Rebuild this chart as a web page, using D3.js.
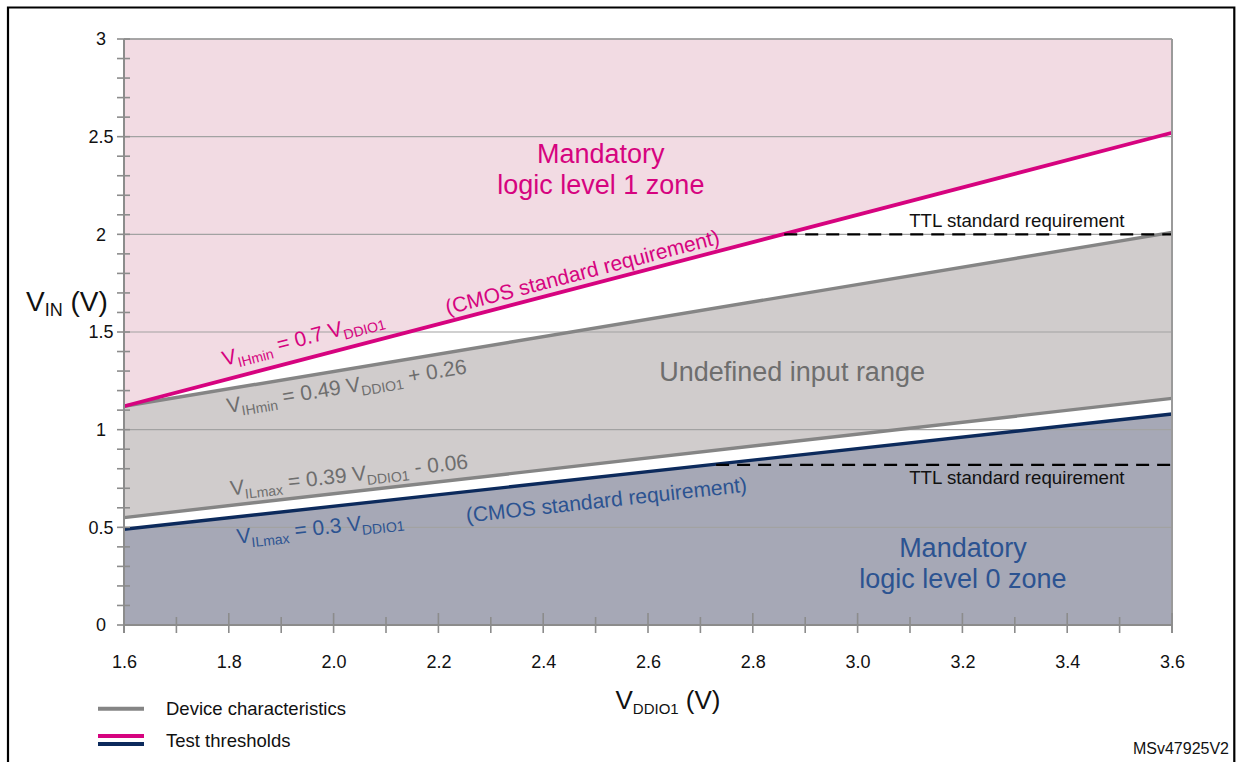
<!doctype html>
<html>
<head>
<script src="https://d3js.org/d3.v7.min.js"></script>
<style>
body { margin: 0; background: #fff; }
text { font-family: "Liberation Sans", Arial, sans-serif; }
</style>
</head>
<body>
<script>
// data
var vddio = [1.6, 3.6];
var vihTest = [1.12, 2.52];     // VIHmin = 0.7 VDDIO1
var vihDevice = [1.12, 2.01];   // VIHmin = 0.49 VDDIO1 + 0.26
var vilDevice = [0.55, 1.16];   // VILmax = 0.39 VDDIO1 - 0.06
var vilTest = [0.49, 1.08];     // VILmax = 0.3 VDDIO1
var ttlLevels = [2.0, 0.82];
var ttlStart = [2.86, 2.73];
var xTickLabels = [1.6, 1.8, 2.0, 2.2, 2.4, 2.6, 2.8, 3.0, 3.2, 3.4, 3.6];
var yTickLabels = [0, 0.5, 1, 1.5, 2, 2.5, 3];

var pink = '#d6037f', navy = '#0c2a5c', grayLine = '#858585';
var blueText = '#2c5391', grayText = '#6e6e6e';

var W = 1236, H = 762;
var svg = d3.select('body').append('svg').attr('width', W).attr('height', H);

var x = d3.scaleLinear().domain([1.6, 3.6]).range([124, 1172]);
var y = d3.scaleLinear().domain([0, 3]).range([625, 39]);

// outer frame
svg.append('path').attr('d', 'M8,' + H + 'V7.5H1234.3V' + H)
	.style('fill', 'none').style('stroke', '#000').style('stroke-width', 2.2);

/////////////// ZONES ///////////////
function pts(vals) { return vddio.map(function(v, i) { return {x: v, y: vals[i]}; }); }
function areaBetween(top, bottom) {
	var data = vddio.map(function(v, i) { return {x: v, t: top[i], b: bottom[i]}; });
	return d3.area().x(function(d) { return x(d.x); })
		.y0(function(d) { return y(d.b); }).y1(function(d) { return y(d.t); })(data);
}
svg.append('path').attr('d', areaBetween([3, 3], vihTest)).style('fill', '#f2dbe3');
svg.append('path').attr('d', areaBetween(vihDevice, vilDevice)).style('fill', '#d0cccc');
svg.append('path').attr('d', areaBetween(vilTest, [0, 0])).style('fill', '#a6a8b6');

// grid lines
svg.append('g').selectAll('line').data(yTickLabels.filter(function(d) { return d > 0; }))
	.enter().append('line')
	.attr('x1', x(1.6)).attr('x2', x(3.6))
	.attr('y1', function(d) { return y(d); }).attr('y2', function(d) { return y(d); })
	.style('stroke', '#a2a2a2').style('stroke-width', 1.2);

/////////////// LINES ///////////////
var line = d3.line().x(function(d) { return x(d.x); }).y(function(d) { return y(d.y); });
svg.append('path').attr('d', line(pts(vihDevice))).style('fill', 'none').style('stroke', grayLine).style('stroke-width', 3.4);
svg.append('path').attr('d', line(pts(vilDevice))).style('fill', 'none').style('stroke', grayLine).style('stroke-width', 3.4);
svg.append('path').attr('d', line(pts(vihTest))).style('fill', 'none').style('stroke', pink).style('stroke-width', 3.8);
svg.append('path').attr('d', line(pts(vilTest))).style('fill', 'none').style('stroke', navy).style('stroke-width', 3.4);

// TTL dashed
svg.append('g').selectAll('line').data(ttlLevels).enter().append('line')
	.attr('x1', function(d, i) { return x(ttlStart[i]); }).attr('x2', x(3.6))
	.attr('y1', function(d) { return y(d); }).attr('y2', function(d) { return y(d); })
	.style('stroke', '#000').style('stroke-width', 2.4).style('stroke-dasharray', '13,8');

/////////////// AXES ///////////////
var axisG = svg.append('g');
axisG.append('line').attr('x1', x(1.6)).attr('x2', x(1.6)).attr('y1', y(3)).attr('y2', y(0) + 8)
	.style('stroke', '#8c8c8c').style('stroke-width', 2);
axisG.append('line').attr('x1', x(3.6)).attr('x2', x(3.6)).attr('y1', y(3)).attr('y2', y(0) + 8)
	.style('stroke', '#9a9a9a').style('stroke-width', 2);
axisG.append('line').attr('x1', x(1.6)).attr('x2', x(3.6)).attr('y1', y(0)).attr('y2', y(0))
	.style('stroke', '#8c8c8c').style('stroke-width', 2);
axisG.append('line').attr('x1', x(1.6)).attr('x2', x(3.6)).attr('y1', y(3)).attr('y2', y(3))
	.style('stroke', '#9a9a9a').style('stroke-width', 1.5);

// minor ticks
var xMinor = d3.range(0, 21).map(function(i) { return +(1.6 + i * 0.1).toFixed(1); });
var yMinor = d3.range(0, 31).map(function(i) { return +(i * 0.1).toFixed(1); });
axisG.append('g').selectAll('line').data(xMinor).enter().append('line')
	.attr('x1', function(d) { return x(d); }).attr('x2', function(d) { return x(d); })
	.attr('y1', function(d, i) { return i == 0 ? y(0) : y(0) - (i % 2 == 0 ? 12 : 8); })
	.attr('y2', y(0) + 8)
	.style('stroke', '#8c8c8c').style('stroke-width', 1.6);
axisG.append('g').selectAll('line').data(yMinor).enter().append('line')
	.attr('y1', function(d) { return y(d); }).attr('y2', function(d) { return y(d); })
	.attr('x1', x(1.6) - 7).attr('x2', x(1.6) + 6)
	.style('stroke', '#8c8c8c').style('stroke-width', 1.6);

var xAxis = d3.axisBottom(x).tickValues(xTickLabels).tickSize(0).tickPadding(30)
	.tickFormat(d3.format('.1f'));
var xg = svg.append('g').attr('transform', 'translate(0,' + y(0) + ')').call(xAxis);
xg.select('.domain').remove();
xg.selectAll('text').style('font-size', '18px').style('fill', '#111');

var yAxis = d3.axisLeft(y).tickValues(yTickLabels).tickSize(0).tickFormat(d3.format(''));
var yg = svg.append('g').attr('transform', 'translate(' + x(1.6) + ',0)').call(yAxis);
yg.select('.domain').remove();
yg.selectAll('text').attr('x', -23).attr('text-anchor', 'middle').style('font-size', '18px').style('fill', '#111');

// axis titles
function subText(g, parts, size, subSize) {
	var t = g.append('text');
	parts.forEach(function(p) {
		t.append('tspan').text(p[0])
			.attr('dy', p[1] == 'sub' ? 5 : (p[1] == 'back' ? -5 : 0))
			.style('font-size', (p[1] == 'sub' ? subSize : size) + 'px');
	});
	return t;
}
subText(svg, [['V'], ['IN', 'sub'], [' (V)', 'back']], 28, 18)
	.attr('x', 26).attr('y', 311).style('fill', '#111');
subText(svg, [['V'], ['DDIO1', 'sub'], [' (V)', 'back']], 26, 15)
	.attr('x', 668).attr('y', 709).attr('text-anchor', 'middle').style('fill', '#111');

/////////////// LABELS ///////////////
function lineLabel(vals, xv, dy, color, parts, size, subSize) {
	var slope = (y(vals[1]) - y(vals[0])) / (x(vddio[1]) - x(vddio[0]));
	var angle = Math.atan(slope) * 180 / Math.PI;
	var v = vals[0] + (vals[1] - vals[0]) * (xv - vddio[0]) / (vddio[1] - vddio[0]);
	var g = svg.append('g').attr('transform', 'translate(' + x(xv) + ',' + (y(v) + dy) + ') rotate(' + angle + ')');
	subText(g, parts, size, subSize).attr('text-anchor', 'middle').style('fill', color);
}
lineLabel(vihTest, 1.945, -14, pink, [['V'], ['IHmin', 'sub'], [' = 0.7 V', 'back'], ['DDIO1', 'sub']], 21, 14);
lineLabel(vihTest, 2.478, -7, pink, [['(CMOS standard requirement)']], 21, 14);
lineLabel(vihDevice, 2.027, 24, grayText, [['V'], ['IHmin', 'sub'], [' = 0.49 V', 'back'], ['DDIO1', 'sub'], [' + 0.26', 'back']], 21, 14);
lineLabel(vilDevice, 2.031, -10, grayText, [['V'], ['ILmax', 'sub'], [' = 0.39 V', 'back'], ['DDIO1', 'sub'], [' - 0.06', 'back']], 21, 14);
lineLabel(vilTest, 1.976, 27, blueText, [['V'], ['ILmax', 'sub'], [' = 0.3 V', 'back'], ['DDIO1', 'sub']], 21, 14);
lineLabel(vilTest, 2.522, 31, blueText, [['(CMOS standard requirement)']], 21, 14);

// zone captions
function caption(lines, xv, yv, color) {
	var t = svg.append('text').attr('x', x(xv)).attr('y', y(yv)).attr('text-anchor', 'middle')
		.style('font-size', '27px').style('fill', color);
	lines.forEach(function(l, i) {
		t.append('tspan').attr('x', x(xv)).attr('dy', i == 0 ? 0 : 31).text(l);
	});
}
caption(['Mandatory', 'logic level 1 zone'], 2.51, 2.365, pink);
caption(['Undefined input range'], 2.875, 1.249, grayText);
caption(['Mandatory', 'logic level 0 zone'], 3.201, 0.348, blueText);

svg.append('text').attr('x', x(3.304)).attr('y', y(ttlLevels[0]) - 7).attr('text-anchor', 'middle')
	.style('font-size', '18.7px').style('fill', '#111').text('TTL standard requirement');
svg.append('text').attr('x', x(3.304)).attr('y', y(ttlLevels[1]) + 19).attr('text-anchor', 'middle')
	.style('font-size', '18.7px').style('fill', '#111').text('TTL standard requirement');

/////////////// LEGEND ///////////////
var legend = [
	{label: 'Device characteristics', colors: [grayLine], y: 708.7},
	{label: 'Test thresholds', colors: [pink, navy], y: 740}
];
legend.forEach(function(l) {
	l.colors.forEach(function(c, i) {
		var off = l.colors.length == 1 ? 0 : (i == 0 ? -4 : 4);
		svg.append('line').attr('x1', 98).attr('x2', 144).attr('y1', l.y + off).attr('y2', l.y + off)
			.style('stroke', c).style('stroke-width', 4);
	});
	svg.append('text').attr('x', 166).attr('y', l.y + 6.5).style('font-size', '18.5px').style('fill', '#111').text(l.label);
});

svg.append('text').attr('x', 1229).attr('y', 754).attr('text-anchor', 'end')
	.style('font-size', '16px').style('fill', '#111').text('MSv47925V2');
</script>
</body>
</html>
